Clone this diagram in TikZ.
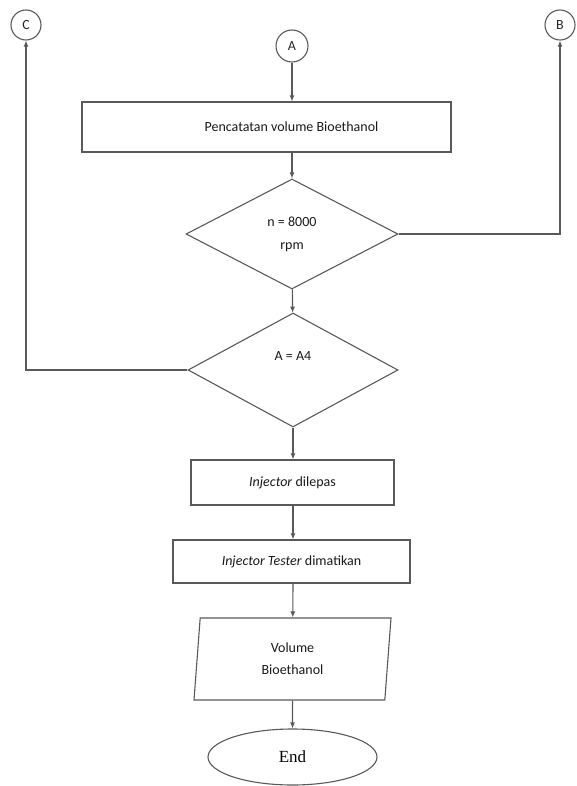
\documentclass[tikz,border=0pt]{standalone}
\usepackage{fontspec}
\setmainfont{Carlito}
\newfontfamily\serifend{Liberation Serif}
\usetikzlibrary{arrows.meta,shapes.geometric}

\tikzset{
  line/.style={draw=black!65, line width=1.1pt},
  flow/.style={line, -{Latex[length=6pt,width=5pt]}},
  conn/.style={circle, line, minimum size=30pt, inner sep=0pt, font=\fontsize{14}{16}\selectfont, text=black!85},
  procbox/.style={rectangle, line, inner sep=0pt, font=\fontsize{14}{16}\selectfont, text=black!90},
  decide/.style={diamond, line, inner sep=0pt, align=center, font=\fontsize{14}{23}\selectfont, text=black!90},
  iobox/.style={trapezium, trapezium left angle=79, trapezium right angle=101, trapezium stretches body,
    line, inner sep=0pt, align=center, font=\fontsize{14}{22}\selectfont, text=black!90},
  terminal/.style={ellipse, line, inner sep=0pt, font=\serifend\fontsize{17}{20}\selectfont}
}

\begin{document}
\begin{tikzpicture}[x=1pt, y=-1pt]
  \useasboundingbox (0,0) rectangle (576,786);

  % off-page connectors
  \node[conn] (C) at (26,25) {C};
  \node[conn] (B) at (560,25) {B};
  \node[conn, minimum size=32pt] (A) at (292,46) {A};

  % main flow (first box text sits on the flow axis, right of the box centre)
  \node[procbox, minimum width=369pt, minimum height=50pt] (rec) at (266.5,127)
    {\hspace*{50pt}Pencatatan volume Bioethanol};
  \node[decide, minimum width=212pt, minimum height=110pt] (rpm) at (292,234) {n = 8000\\rpm};
  \node[decide, minimum width=210pt, minimum height=114pt] (aa) at (293,370) {A = A4\\[4pt]};
  \node[procbox, minimum width=203pt, minimum height=45pt] (rel) at (292.5,482.5) {\textit{Injector} dilepas};
  \node[procbox, minimum width=237pt, minimum height=43pt] (off) at (291.5,561.5) {\textit{Injector Tester} dimatikan};
  \node[iobox, minimum width=197pt, minimum height=82pt] (vol) at (292.5,659) {Volume\\Bioethanol};
  \node[terminal, minimum width=169pt, minimum height=56pt] (end) at (292.5,757) {End};

  % connectors
  \draw[flow] (A) -- (A |- rec.north);
  \draw[flow] (rpm.north |- rec.south) -- (rpm.north);
  \draw[flow] (rpm) -- (aa);
  \draw[flow] (aa.south) -- (aa.south |- rel.north);
  \draw[flow] (aa.south |- rel.south) -- (aa.south |- off.north);
  \draw[flow] (aa.south |- off.south) -- (vol);
  \draw[flow] (vol) -- (end);
  \draw[flow] (rpm.east) -| (B.south);
  \draw[flow] (aa.west) -| (C.south);
\end{tikzpicture}
\end{document}
